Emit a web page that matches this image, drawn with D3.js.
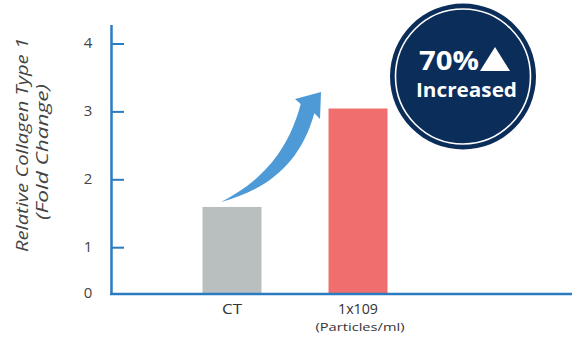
<!DOCTYPE html>
<html><head><meta charset="utf-8">
<script src="https://cdn.jsdelivr.net/npm/d3@7"></script>
<style>body{margin:0;background:#fff}svg{display:block}</style>
</head><body>
<script>
const categories = ["CT", "1x109"];
const subLabels = ["", "(Particles/ml)"];
const values = [1.6, 3.05];
const barColors = ["#b9bfbe", "#f06e6e"];
const tickValues = [0, 1, 2, 3, 4];
const tickLabels = ["0", "1", "2", "3", "4"];
const yTitle = ["Relative Collagen Type 1", "(Fold Change)"];
const badgeText = ["70%", "Increased"];

const W = 574, H = 337;
const svg = d3.select("body").append("svg").attr("width", W).attr("height", H);
const font = "'Open Sans', sans-serif";
const axisColor = "#2b7bc0";

// original chart has a compressed segment between 0 and 1
const y = d3.scaleLinear().domain([0, 1, 4]).range([294, 247.7, 44]);
const x = d3.scaleBand().domain(categories).range([169, 421]).paddingInner(0.532).paddingOuter(0.266);

// bars
svg.selectAll("rect.bar").data(values).join("rect")
  .attr("class", "bar")
  .attr("x", (d, i) => x(categories[i]))
  .attr("width", x.bandwidth())
  .attr("y", d => y(d))
  .attr("height", d => y(0) - y(d))
  .attr("fill", (d, i) => barColors[i]);

// y axis line
svg.append("line").attr("x1", 111.5).attr("x2", 111.5).attr("y1", 25).attr("y2", y(0) + 1)
  .attr("stroke", axisColor).attr("stroke-width", 2.5);
// x axis line
svg.append("line").attr("x1", 110).attr("x2", 572).attr("y1", y(0)).attr("y2", y(0))
  .attr("stroke", axisColor).attr("stroke-width", 2.5);

// ticks
tickValues.forEach((v, i) => {
  if (v > 0) {
    svg.append("line").attr("x1", 111).attr("x2", 124).attr("y1", y(v)).attr("y2", y(v))
      .attr("stroke", axisColor).attr("stroke-width", 2);
  }
  svg.append("text").attr("x", 88).attr("y", y(v) - 1).attr("dy", "0.35em")
    .attr("text-anchor", "middle").attr("font-family", font).attr("font-size", 15)
    .attr("fill", "#444").text(tickLabels[i]);
});

// y title
const tg = svg.append("g").attr("transform", "translate(28,145) rotate(-90)");
tg.append("text").attr("x", 0).attr("y", 0).attr("text-anchor", "middle")
  .attr("font-family", font).attr("font-style", "italic").attr("font-size", 16).attr("fill", "#444")
  .attr("textLength", 214).attr("lengthAdjust", "spacingAndGlyphs")
  .text(yTitle[0]);
tg.append("text").attr("x", -7).attr("y", 20).attr("text-anchor", "middle")
  .attr("font-family", font).attr("font-style", "italic").attr("font-size", 16).attr("fill", "#444")
  .attr("textLength", 136).attr("lengthAdjust", "spacingAndGlyphs")
  .text(yTitle[1]);

// x labels
const labelW = [20, 40];
categories.forEach((c, i) => {
  const cx = x(c) + x.bandwidth() / 2;
  svg.append("text").attr("x", cx).attr("y", 314).attr("text-anchor", "middle")
    .attr("font-family", font).attr("font-size", 14).attr("fill", "#333")
    .attr("textLength", labelW[i]).attr("lengthAdjust", "spacingAndGlyphs").text(c);
  if (subLabels[i]) {
    svg.append("text").attr("x", cx + 2).attr("y", 331).attr("text-anchor", "middle")
      .attr("font-family", font).attr("font-size", 11.5).attr("fill", "#333")
      .attr("textLength", 89).attr("lengthAdjust", "spacingAndGlyphs").text(subLabels[i]);
  }
});

// arrow
svg.append("path")
  .attr("d", "M221,202 C252,186 286,160 300.7,104 L295,99 L321,92 L320,119 L314.3,113.3 C300,165 266,190 221,202 Z")
  .attr("fill", "#4d9ad6");

// badge
const bx = 463, by = 76.5;
svg.append("circle").attr("cx", bx).attr("cy", by).attr("r", 73).attr("fill", "#0b2d5a");
svg.append("circle").attr("cx", bx).attr("cy", by).attr("r", 67.5).attr("fill", "none")
  .attr("stroke", "#fff").attr("stroke-width", 1.6);
svg.append("text").attr("x", 419).attr("y", 70).attr("text-anchor", "start")
  .attr("font-family", font).attr("font-weight", "bold").attr("font-size", 26).attr("fill", "#fff")
  .attr("textLength", 60).attr("lengthAdjust", "spacingAndGlyphs")
  .text(badgeText[0]);
svg.append("path").attr("d", "M480,71 L495,47 L510,71 Z").attr("fill", "#fff");
svg.append("text").attr("x", 416).attr("y", 97).attr("text-anchor", "start")
  .attr("font-family", font).attr("font-weight", "bold").attr("font-size", 19).attr("fill", "#fff")
  .attr("textLength", 101).attr("lengthAdjust", "spacingAndGlyphs")
  .text(badgeText[1]);
</script>
</body></html>
